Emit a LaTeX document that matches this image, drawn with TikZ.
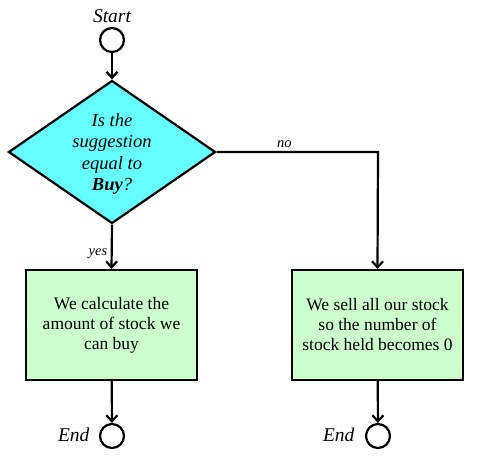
\documentclass[tikz,border=0pt]{standalone}
\usepackage{fontspec}
\setmainfont{Liberation Serif}
\usetikzlibrary{shapes.geometric,arrows.meta}
\definecolor{dcyan}{HTML}{66FFFF}
\definecolor{bgreen}{HTML}{CCFFCC}
\begin{document}
\begin{tikzpicture}[x=1pt,y=-1pt,
  term/.style={circle,draw,line width=2.2pt,minimum size=24pt,inner sep=0pt},
  decide/.style={diamond,draw,line width=2.2pt,fill=dcyan,minimum width=207pt,minimum height=143pt,inner sep=0pt},
  dtext/.style={align=center,inner sep=0pt,font=\fontsize{18.5}{21.5}\selectfont\itshape},
  proc/.style={rectangle,draw,line width=2.2pt,fill=bgreen,minimum width=171pt,minimum height=110pt,align=center,font=\fontsize{17.5}{20}\selectfont},
  flow/.style={line width=2.2pt,-{Straight Barb[length=6pt,width=11pt,line width=2.2pt]}},
  lbl/.style={font=\fontsize{19.5}{20}\selectfont\itshape},
  small/.style={font=\fontsize{14.5}{15}\selectfont\itshape}
]
\useasboundingbox (0,0) rectangle (492,460);
\node[term] (start) at (112,40) {};
\node[lbl] (startl) at (112,16) {Start};
\node[decide] (dec) at (112,152) {};
\node[dtext] (dect) at (112,154) {Is the\\suggestion\\equal to\\\textbf{Buy}?};
\node[proc] (buy) at (111.5,325) {We calculate the\\amount of stock we\\can buy};
\node[proc] (sell) at (377.5,325) {We sell all our stock\\so the number of\\stock held becomes 0};
\node[term] (end1) at (112,436) {};
\node[term] (end2) at (378,436) {};
\node[lbl,anchor=east] (end1l) at (93,435) {End};
\node[lbl,anchor=east] (end2l) at (358,435) {End};
\coordinate (corner) at (378,152);
\draw[flow] (start) -- (dec);
\draw[flow] (dec.south) -- node[small,pos=0.65,left] {yes} (buy.north);
\draw[flow] (dec.east) -- node[small,above,pos=0.42] {no} (corner) -- (sell.north);
\draw[flow] (buy) -- (end1);
\draw[flow] (sell) -- (end2);
\end{tikzpicture}
\end{document}
